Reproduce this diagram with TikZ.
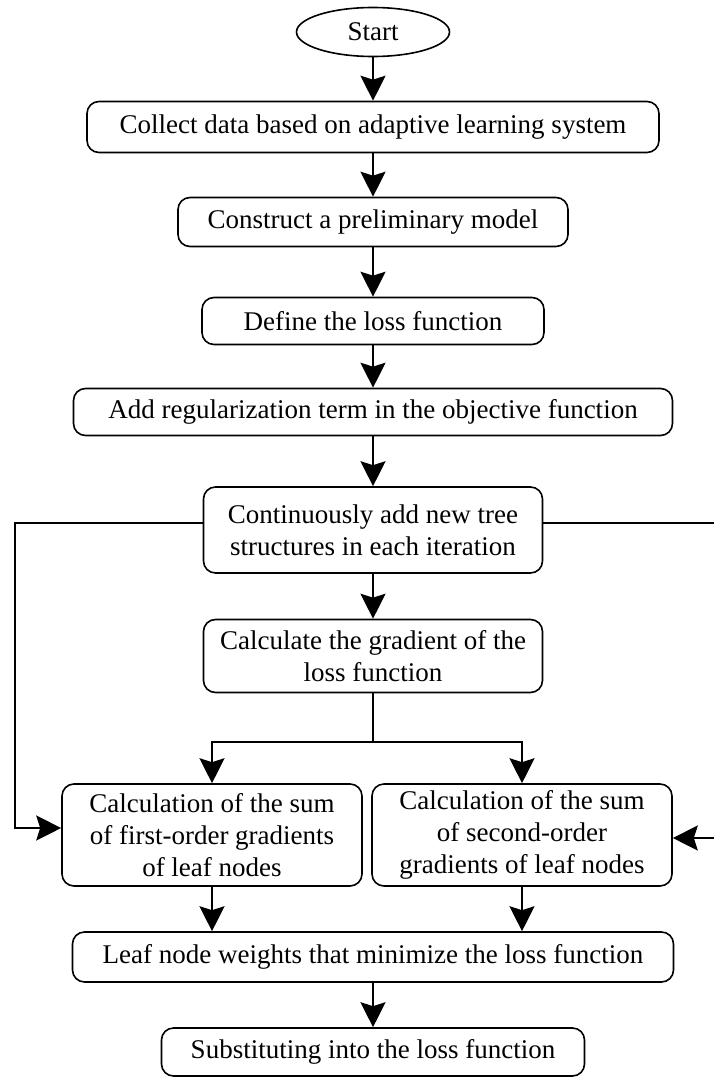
\documentclass[tikz,border=0pt]{standalone}
\usepackage{fontspec}
\setmainfont{Liberation Serif}
\usetikzlibrary{arrows.meta,shapes.geometric}
\begin{document}
\begin{tikzpicture}[x=1pt,y=-1pt,
 box/.style={draw, rounded corners=12pt, line width=1.6pt, align=center, inner sep=0pt, font=\fontsize{27}{32}\selectfont},
 arr/.style={-{Stealth[length=25pt,width=25pt,inset=4pt]}, line width=1.8pt},
 ln/.style={line width=1.8pt}]
\useasboundingbox (0,0) rectangle (714,1081);
\node[draw, ellipse, line width=1.6pt, minimum width=153pt, minimum height=49pt, inner sep=0pt, font=\fontsize{27}{32}\selectfont] (st) at (373,32) {Start};
\node[box, minimum width=572pt, minimum height=51pt] (b1) at (373,127) {Collect data based on adaptive learning system};
\node[box, minimum width=390pt, minimum height=49pt] (b2) at (373,222) {Construct a preliminary model};
\node[box, minimum width=342pt, minimum height=47pt] (b3) at (373,321) {Define the loss function};
\node[box, minimum width=599pt, minimum height=47pt] (b4) at (373,412) {Add regularization term in the objective function};
\node[box, minimum width=339pt, minimum height=86pt] (b5) at (373,530) {Continuously add new tree\\structures in each iteration};
\node[box, minimum width=339pt, minimum height=73pt] (b6) at (373,656) {Calculate the gradient of the\\loss function};
\node[box, minimum width=300pt, minimum height=102pt] (b7) at (212,835) {Calculation of the sum\\of first-order gradients\\of leaf nodes};
\node[box, minimum width=300pt, minimum height=102pt] (b8) at (522,835) {Calculation of the sum\\of second-order\\gradients of leaf nodes};
\node[box, minimum width=601pt, minimum height=50pt] (b9) at (373,957) {Leaf node weights that minimize the loss function};
\node[box, minimum width=423pt, minimum height=48pt] (b10) at (373,1052) {Substituting into the loss function};
\coordinate (S) at (373,742);
\coordinate (L1) at (15,523);
\coordinate (L2) at (15,828);
\coordinate (R1) at (716,523);
\coordinate (R2) at (716,838);
\draw[arr] (st) -- (b1);
\draw[arr] (b1) -- (b2);
\draw[arr] (b2) -- (b3);
\draw[arr] (b3) -- (b4);
\draw[arr] (b4) -- (b5);
\draw[arr] (b5) -- (b6);
\draw[ln] (b6.south) -- (S);
\draw[arr] (S) -| (b7.north);
\draw[arr] (S) -| (b8.north);
\draw[arr] ([yshift=7pt]b5.west) -- (L1) -- (L2) -- ([yshift=7pt]b7.west);
\draw[ln] ([yshift=7pt]b5.east) -- (R1);
\draw[arr] (R2) -- ([yshift=-3pt]b8.east);
\draw[arr] (b7.south) -- (b7.south |- b9.north);
\draw[arr] (b8.south) -- (b8.south |- b9.north);
\draw[arr] (b9) -- (b10);
\end{tikzpicture}
\end{document}
